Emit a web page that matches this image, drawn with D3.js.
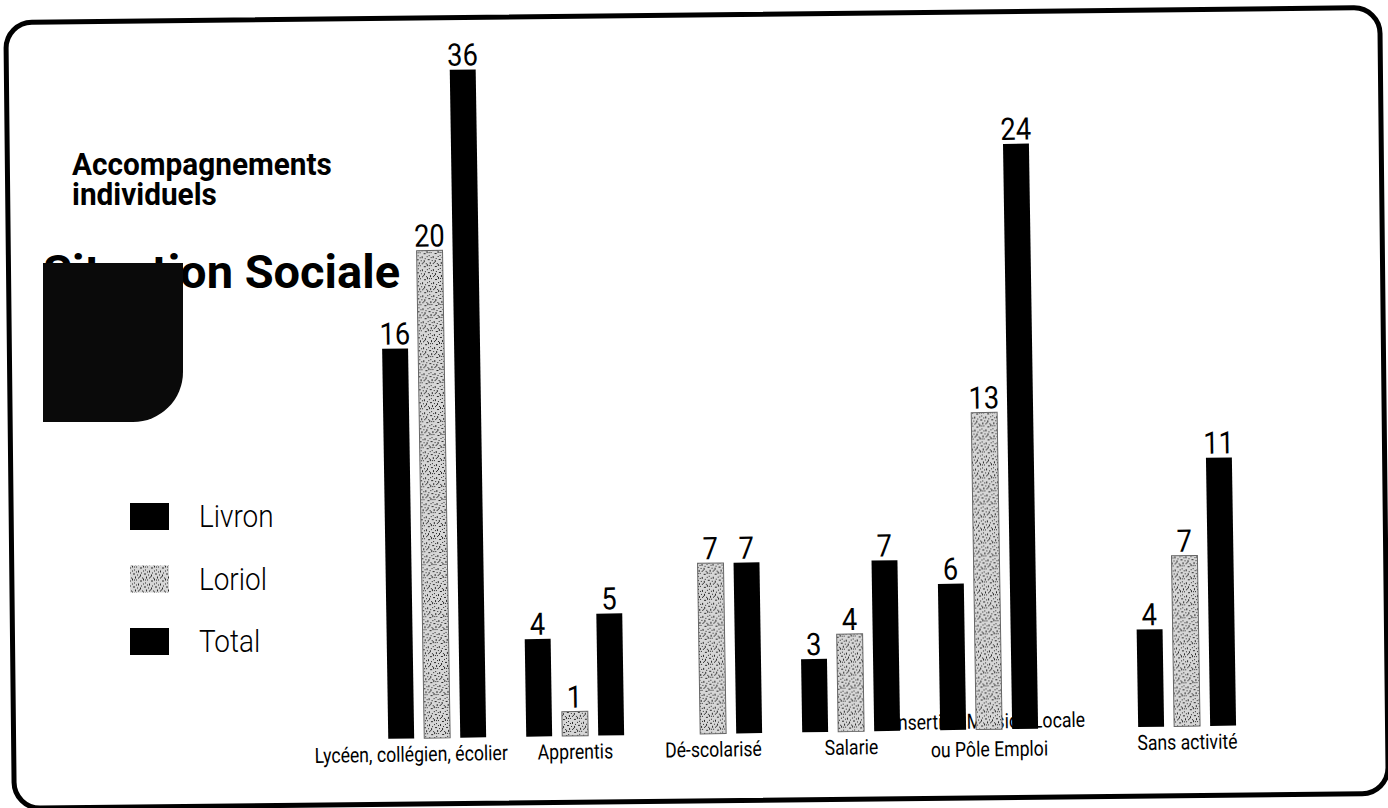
<!DOCTYPE html>
<html>
<head>
<meta charset="utf-8">
<script src="https://cdn.jsdelivr.net/npm/d3@7"></script>
<style>
  html, body { margin: 0; padding: 0; background: #fff; }
  svg { display: block; }
  text { font-family: Roboto, "Noto Sans", sans-serif; fill: #000; }
</style>
</head>
<body>
<svg id="chart" width="1388" height="808"></svg>
<script>
// ---- data ----
const categories = ["Lycéen, collégien, écolier", "Apprentis", "Dé-scolarisé", "Salarie", "Insertion Mission Locale\nou Pôle Emploi", "Sans activité"];
const seriesNames = ["Livron", "Loriol", "Total"];
const livron = [16, 4, null, 3, 6, 4];
const loriol = [20, 1, 7, 4, 13, 7];
const total  = [36, 5, 7, 7, 24, 11];
const titleLines = ["Accompagnements", "individuels"];
const mainTitle = "Situation Sociale";

const seriesValues = { Livron: livron, Loriol: loriol, Total: total };

const svg = d3.select("#chart");

// pattern for Loriol (speckled grey, like the scan)
const defs = svg.append("defs");
const pat = defs.append("pattern").attr("id", "speckle")
  .attr("patternUnits", "userSpaceOnUse").attr("width", 11).attr("height", 13);
pat.append("rect").attr("width", 11).attr("height", 13).attr("fill", "#d6d6d6");
[[0,0,1,2],[4,1,1,1],[8,2,2,1],[2,4,1,1],[6,5,1,2],[9,7,1,1],[1,8,2,1],[5,9,1,1],
 [3,11,1,2],[7,11,1,1],[10,12,1,1],[0,5,1,1],[4,6,1,1],[8,9,1,2],[2,1,1,1],[6,12,1,1]]
  .forEach(([a,b,w,h]) =>
    pat.append("rect").attr("x", a).attr("y", b).attr("width", w).attr("height", h).attr("fill", "#2a2a2a"));

const fills = { Livron: "#000", Loriol: "url(#speckle)", Total: "#000" };

function condense(sel, ratio) {
  sel.each(function () {
    const len = this.getComputedTextLength();
    d3.select(this).attr("textLength", len * ratio).attr("lengthAdjust", "spacingAndGlyphs");
  });
}

// ---- frame ----
svg.append("rect")
  .attr("x", 10).attr("y", 15).attr("width", 1374).attr("height", 786)
  .attr("rx", 26).attr("ry", 26)
  .attr("fill", "none").attr("stroke", "#000").attr("stroke-width", 5)
  .attr("transform", "rotate(-0.62, 694, 404)");

// ---- titles ----
titleLines.forEach((t, i) => {
  svg.append("text").attr("x", 72).attr("y", 175 + i * 30)
    .attr("font-size", 31).attr("font-weight", 700).text(t)
    .call(condense, 0.96);
});

svg.append("text").attr("x", 43).attr("y", 288)
  .attr("font-size", 47).attr("font-weight", 700).text(mainTitle)
  .call(condense, 1.0);

// black decorative box (rounded bottom-right corner)
const bx = 43, by = 263, bw = 140, bh = 159, br = 50;
svg.append("path")
  .attr("d", `M${bx},${by} H${bx + bw} V${by + bh - br} A${br},${br} 0 0 1 ${bx + bw - br},${by + bh} H${bx} Z`)
  .attr("fill", "#0a0a0a");

// ---- legend ----
const ly = d3.scalePoint().domain(seriesNames).range([516, 641]);
const leg = svg.append("g").selectAll("g").data(seriesNames).join("g")
  .attr("transform", d => `translate(0,${ly(d)})`);
leg.append("rect").attr("x", 130).attr("y", -13).attr("width", 39).attr("height", 27)
  .attr("fill", d => fills[d]);
leg.append("text").attr("x", 199).attr("y", 11)
  .attr("font-size", 31).attr("font-weight", 300).text(d => d)
  .call(condense, 0.9);

// ---- bars ----
const g = svg.append("g").attr("transform", "rotate(-0.9, 694, 404)");

const xIndex = d3.scaleLinear().domain([0, 4, 5]).range([432, 984, 1182]);
const xInner = d3.scaleBand().domain(seriesNames).range([-54, 54]).paddingInner(0.28).paddingOuter(0.14);
const y = d3.scaleLinear().domain([0, 27.4]).range([734, 66]).clamp(true);

// category labels (drawn first, bars may overlap them)
const labelBase = 757;
const labelGroups = categories.map((c, i) => {
  const lines = c.split("\n");
  const n = lines.length;
  return lines.map((ln, j) => g.append("text")
    .attr("x", xIndex(i)).attr("y", labelBase + (j - (n - 1)) * 28 + (n - 1) * 4)
    .attr("text-anchor", "middle").attr("font-size", 21).text(ln)
    .call(condense, 0.84));
});
// collision avoidance on the bottom line: shift a label left if it runs into the next one
for (let i = labelGroups.length - 2; i >= 0; i--) {
  const a = labelGroups[i][labelGroups[i].length - 1];
  const b = labelGroups[i + 1][labelGroups[i + 1].length - 1];
  const ab = a.node().getBBox(), bb = b.node().getBBox();
  const overlap = ab.x + ab.width + 30 - bb.x;
  if (overlap > 0) labelGroups[i].forEach(t => t.attr("x", +t.attr("x") - overlap));
}

const barData = [];
categories.forEach((c, i) => {
  seriesNames.forEach(s => {
    const v = seriesValues[s][i];
    if (v !== null && v !== undefined) barData.push({ i, s, v });
  });
});

g.selectAll("rect.bar").data(barData).join("rect").attr("class", "bar")
  .attr("x", d => xIndex(d.i) + xInner(d.s))
  .attr("width", xInner.bandwidth())
  .attr("y", d => y(d.v))
  .attr("height", d => y(0) - y(d.v))
  .attr("fill", d => fills[d.s])
  .attr("stroke", d => d.s === "Loriol" ? "#666" : "none")
  .attr("stroke-width", 1);

g.selectAll("text.val").data(barData).join("text").attr("class", "val")
  .attr("x", d => xIndex(d.i) + xInner(d.s) + xInner.bandwidth() / 2)
  .attr("y", d => y(d.v) - 4)
  .attr("text-anchor", "middle").attr("font-size", 31)
  .text(d => d.v)
  .call(condense, 0.88);
</script>
</body>
</html>
